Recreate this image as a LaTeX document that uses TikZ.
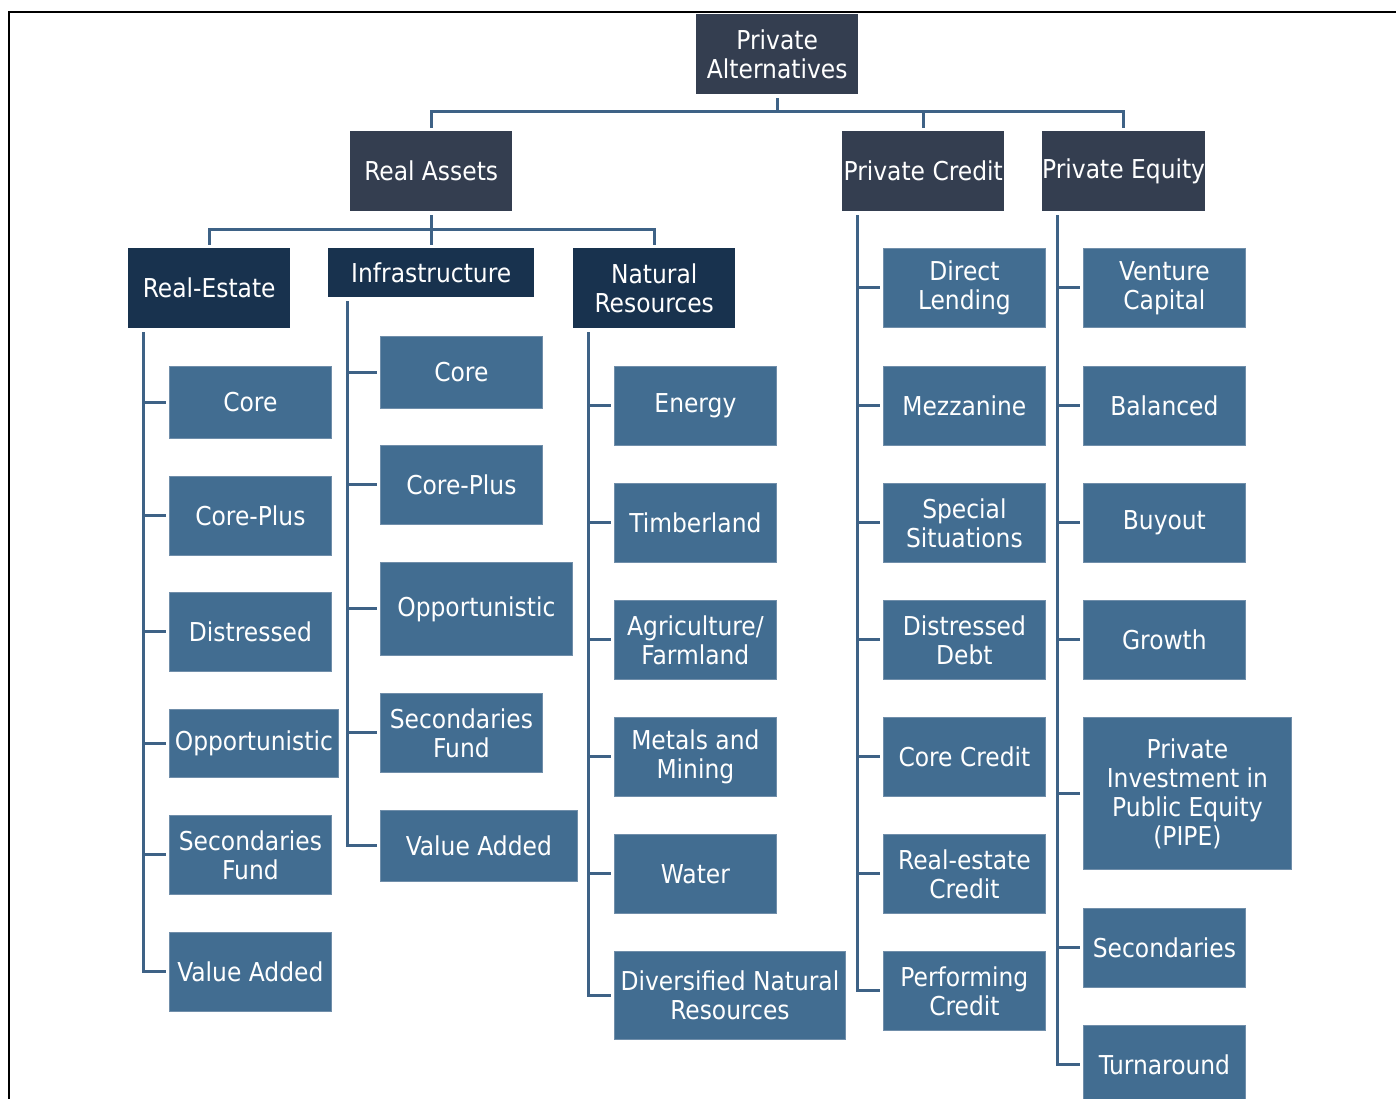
\documentclass[tikz,border=0pt]{standalone}
\usepackage{fontspec}
\setmainfont{DejaVu Sans Condensed}
\definecolor{topc}{RGB}{52,62,80}
\definecolor{midc}{RGB}{24,50,78}
\definecolor{leafc}{RGB}{66,109,145}
\definecolor{leafb}{RGB}{112,142,170}
\definecolor{connc}{RGB}{62,98,134}
\begin{document}
\begin{tikzpicture}[x=1pt,y=-1pt,
  box/.style={rectangle, anchor=north west, inner sep=0pt, text=white, align=center,
    font=\fontsize{26}{29}\selectfont},
  topbox/.style={box, fill=topc},
  midbox/.style={box, fill=midc},
  leaf/.style={box, fill=leafc, draw=leafb, line width=0.8pt},
  conn/.style={draw=connc, line width=3pt},
  frameline/.style={draw=black, line width=1.5pt}]
\useasboundingbox (0,0) rectangle (1396,1099);
\draw[frameline] (9,1105) -- (9,12) -- (1400,12);

% top levels
\node[topbox, minimum width=162, minimum height=80] (pa) at (696,14) {Private\\Alternatives};
\node[topbox, minimum width=162, minimum height=80] (ra) at (350,131) {Real Assets};
\node[topbox, minimum width=162, minimum height=80] (pc) at (842,131) {Private Credit};
\node[topbox, minimum width=162, minimum height=80] (pe) at (1042,131) {Private Equity};

% second level
\node[midbox, minimum width=162, minimum height=80] (re) at (128,248) {Real-Estate};
\node[midbox, minimum width=206, minimum height=49] (inf) at (328,248) {Infrastructure};
\node[midbox, minimum width=162, minimum height=80] (nr) at (573,248) {Natural\\Resources};

% Real-Estate leaves
\node[leaf, minimum width=162, minimum height=72] (re1) at (169,366) {Core};
\node[leaf, minimum width=162, minimum height=79] (re2) at (169,476) {Core-Plus};
\node[leaf, minimum width=162, minimum height=79] (re3) at (169,592) {Distressed};
\node[leaf, minimum width=169, minimum height=68] (re4) at (169,709) {Opportunistic};
\node[leaf, minimum width=162, minimum height=79] (re5) at (169,815) {Secondaries\\Fund};
\node[leaf, minimum width=162, minimum height=79] (re6) at (169,932) {Value Added};

% Infrastructure leaves
\node[leaf, minimum width=162, minimum height=72] (in1) at (380,336) {Core};
\node[leaf, minimum width=162, minimum height=79] (in2) at (380,445) {Core-Plus};
\node[leaf, minimum width=192, minimum height=93] (in3) at (380,562) {Opportunistic};
\node[leaf, minimum width=162, minimum height=79] (in4) at (380,693) {Secondaries\\Fund};
\node[leaf, minimum width=197, minimum height=71] (in5) at (380,810) {Value Added};

% Natural Resources leaves
\node[leaf, minimum width=162, minimum height=79] (nr1) at (614,366) {Energy};
\node[leaf, minimum width=162, minimum height=79] (nr2) at (614,483) {Timberland};
\node[leaf, minimum width=162, minimum height=79] (nr3) at (614,600) {Agriculture/\\Farmland};
\node[leaf, minimum width=162, minimum height=79] (nr4) at (614,717) {Metals and\\Mining};
\node[leaf, minimum width=162, minimum height=79] (nr5) at (614,834) {Water};
\node[leaf, minimum width=231, minimum height=88] (nr6) at (614,951) {Diversified Natural\\Resources};

% Private Credit leaves
\node[leaf, minimum width=162, minimum height=79] (pc1) at (883,248) {Direct\\Lending};
\node[leaf, minimum width=162, minimum height=79] (pc2) at (883,366) {Mezzanine};
\node[leaf, minimum width=162, minimum height=79] (pc3) at (883,483) {Special\\Situations};
\node[leaf, minimum width=162, minimum height=79] (pc4) at (883,600) {Distressed\\Debt};
\node[leaf, minimum width=162, minimum height=79] (pc5) at (883,717) {Core Credit};
\node[leaf, minimum width=162, minimum height=79] (pc6) at (883,834) {Real-estate\\Credit};
\node[leaf, minimum width=162, minimum height=79] (pc7) at (883,951) {Performing\\Credit};

% Private Equity leaves
\node[leaf, minimum width=162, minimum height=79] (pe1) at (1083,248) {Venture\\Capital};
\node[leaf, minimum width=162, minimum height=79] (pe2) at (1083,366) {Balanced};
\node[leaf, minimum width=162, minimum height=79] (pe3) at (1083,483) {Buyout};
\node[leaf, minimum width=162, minimum height=79] (pe4) at (1083,600) {Growth};
\node[leaf, minimum width=208, minimum height=152] (pe5) at (1083,717) {Private\\Investment in\\Public Equity\\(PIPE)};
\node[leaf, minimum width=162, minimum height=79] (pe6) at (1083,908) {Secondaries};
\node[leaf, minimum width=162, minimum height=79] (pe7) at (1083,1025) {Turnaround};

% buses
\coordinate (bus1) at (0,112);
\coordinate (bus2) at (0,230);
\draw[conn] ([yshift=-4pt]pa.south) -- (pa.south |- bus1);
\draw[conn] ([yshift=3pt]ra.north) |- (bus1 -| pe.north) -- ([yshift=3pt]pe.north);
\draw[conn] ([yshift=3pt]pc.north) -- (pc.north |- bus1);
\draw[conn] ([yshift=-4pt]ra.south) -- (ra.south |- bus2);
\draw[conn] ([yshift=3pt]re.north) |- (bus2 -| nr.north) -- ([yshift=3pt]nr.north);
\draw[conn] ([yshift=3pt]inf.north) -- (inf.north |- bus2);

% trunks
\coordinate (reT) at ([xshift=15pt]re.south west);
\coordinate (inT) at ([xshift=19pt]inf.south west);
\coordinate (nrT) at ([xshift=15pt]nr.south west);
\coordinate (pcT) at ([xshift=15pt]pc.south west);
\coordinate (peT) at ([xshift=15pt]pe.south west);

\draw[conn] ([yshift=-4pt]reT) |- ([xshift=-3pt]re6.west);
\foreach \c in {re1,re2,re3,re4,re5} \draw[conn] (reT |- \c.west) -- ([xshift=-3pt]\c.west);
\draw[conn] ([yshift=-4pt]inT) |- ([xshift=-3pt]in5.west);
\foreach \c in {in1,in2,in3,in4} \draw[conn] (inT |- \c.west) -- ([xshift=-3pt]\c.west);
\draw[conn] ([yshift=-4pt]nrT) |- ([xshift=-3pt]nr6.west);
\foreach \c in {nr1,nr2,nr3,nr4,nr5} \draw[conn] (nrT |- \c.west) -- ([xshift=-3pt]\c.west);
\draw[conn] ([yshift=-4pt]pcT) |- ([xshift=-3pt]pc7.west);
\foreach \c in {pc1,pc2,pc3,pc4,pc5,pc6} \draw[conn] (pcT |- \c.west) -- ([xshift=-3pt]\c.west);
\draw[conn] ([yshift=-4pt]peT) |- ([xshift=-3pt]pe7.west);
\foreach \c in {pe1,pe2,pe3,pe4,pe5,pe6} \draw[conn] (peT |- \c.west) -- ([xshift=-3pt]\c.west);
\end{tikzpicture}
\end{document}
